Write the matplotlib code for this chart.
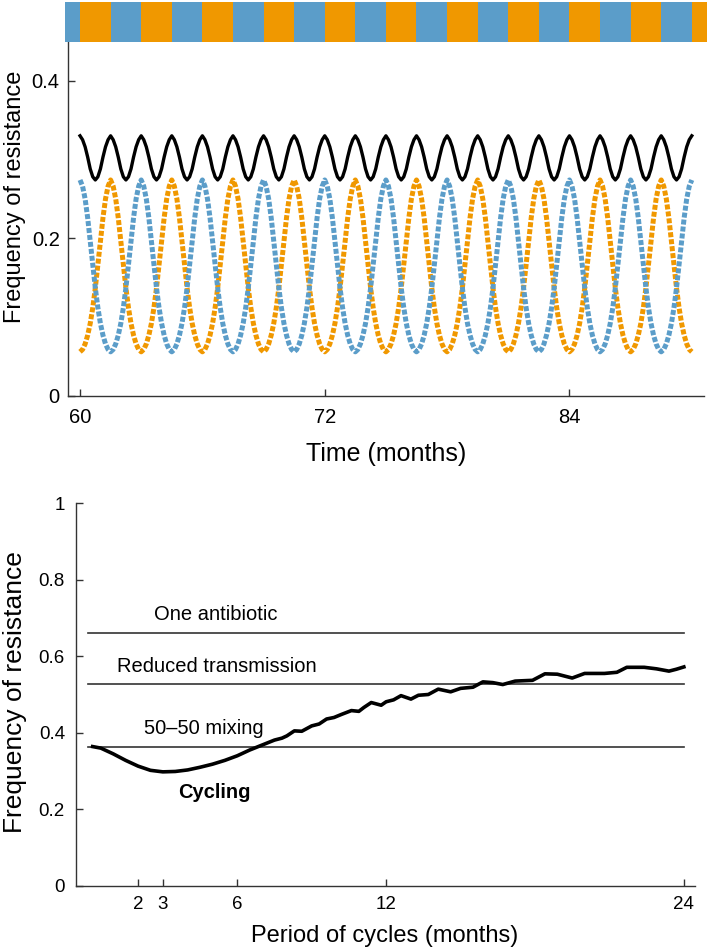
import numpy as np
import matplotlib
matplotlib.use("Agg")
import matplotlib.pyplot as plt
from matplotlib.ticker import FuncFormatter

plt.rcParams['font.family'] = ['Liberation Sans', 'DejaVu Sans']

BLUE = '#5b9dc9'
ORANGE = '#f09800'
DARK = '#333333'

# --- top panel: resistance over time while cycling two drugs every 1.5 months ---
months = np.arange(60, 90.001, 0.125)
n_cycles = 10
# one 3-month cycle (0.125 month steps)
orange_cycle = [0.056, 0.059, 0.066, 0.077, 0.092, 0.112, 0.137, 0.166, 0.196, 0.226, 0.250, 0.266,
                0.274, 0.266, 0.250, 0.226, 0.196, 0.166, 0.137, 0.112, 0.092, 0.077, 0.066, 0.059]
blue_cycle = [0.274, 0.266, 0.250, 0.226, 0.196, 0.166, 0.137, 0.112, 0.092, 0.077, 0.066, 0.059,
              0.056, 0.059, 0.066, 0.077, 0.092, 0.112, 0.137, 0.166, 0.196, 0.226, 0.250, 0.266]
total_cycle = [0.330, 0.325, 0.316, 0.303, 0.288, 0.278, 0.274, 0.278, 0.288, 0.303, 0.316, 0.325]

orange = np.append(np.tile(orange_cycle, n_cycles), orange_cycle[0])
blue = np.append(np.tile(blue_cycle, n_cycles), blue_cycle[0])
total = np.append(np.tile(total_cycle, 2 * n_cycles), total_cycle[0])

# drug in use, 1.5 month blocks starting at 58.5
schedule_start = 58.5
schedule_len = 1.5
schedule = ['B'] + ['A', 'B'] * 10 + ['A']

# --- bottom panel ---
strategy_names = ['One antibiotic', 'Reduced transmission', '50\u201350 mixing']
strategy_levels = [0.660, 0.527, 0.363]

cyc_period = [0.17, 0.5, 1.0, 1.5, 2.0, 2.5, 3.0, 3.5, 4.0, 4.5, 5.0, 5.5, 6.0, 6.5, 7.0, 7.5,
              7.8, 8.0, 8.3, 8.6, 9.0, 9.3, 9.6, 9.9, 10.2, 10.6, 10.9, 11.1, 11.4, 11.8, 12.0,
              12.3, 12.6, 13.0, 13.3, 13.7, 14.1, 14.6, 15.0, 15.5, 15.9, 16.3, 16.7, 17.2,
              17.9, 18.4, 18.9, 19.5, 20.0, 20.8, 21.3, 21.7, 22.4, 22.9, 23.4, 23.7, 24.0]
cyc_resist = [0.364, 0.360, 0.345, 0.328, 0.313, 0.302, 0.298, 0.299, 0.303, 0.310, 0.318, 0.328,
              0.340, 0.355, 0.368, 0.381, 0.386, 0.392, 0.405, 0.404, 0.418, 0.423, 0.436, 0.440,
              0.448, 0.458, 0.456, 0.466, 0.479, 0.472, 0.481, 0.486, 0.497, 0.488, 0.498, 0.500,
              0.514, 0.507, 0.516, 0.519, 0.533, 0.531, 0.526, 0.535, 0.537, 0.554, 0.553, 0.543,
              0.555, 0.555, 0.558, 0.571, 0.571, 0.567, 0.561, 0.566, 0.572]


def style_axes(ax, labelsize):
    for s in ['top', 'right']:
        ax.spines[s].set_visible(False)
    for s in ['left', 'bottom']:
        ax.spines[s].set_color(DARK)
        ax.spines[s].set_linewidth(1.0)
    ax.tick_params(direction='in', length=5, width=1, color=DARK, labelsize=labelsize)


fig = plt.figure(figsize=(7.09, 9.5), dpi=100)

ax1 = fig.add_axes([0.0959, 0.5832, 0.8971, 0.3726])
axb = fig.add_axes([0.0917, 0.9558, 0.9055, 0.0421])
ax2 = fig.add_axes([0.1072, 0.0674, 0.8731, 0.4031])

# drug bar
for i, d in enumerate(schedule):
    x0 = schedule_start + i * schedule_len
    axb.axvspan(x0, x0 + schedule_len, color=BLUE if d == 'B' else ORANGE, lw=0)
axb.set_xlim(59.26, 90.75)
axb.set_ylim(0, 1)
axb.axis('off')

ax1.plot(months, orange, color=ORANGE, lw=3.6, ls=(0, (1.0, 0.4)), dash_capstyle='butt')
ax1.plot(months, blue, color=BLUE, lw=3.6, ls=(0, (1.0, 0.4)), dash_capstyle='butt')
ax1.plot(months, total, color='black', lw=2.4)
ax1.set_xlim(59.41, 90.6)
ax1.set_ylim(0, 0.449)
ax1.set_xticks([60, 72, 84])
ax1.set_yticks([0, 0.2, 0.4])
ax1.yaxis.set_major_formatter(FuncFormatter(lambda v, p: f'{v:g}'))
style_axes(ax1, 14.5)
ax1.tick_params(axis='x', pad=9)
ax1.tick_params(axis='y', pad=6)
ax1.set_ylabel('Frequency of resistance', fontsize=17, va='center')
ax1.yaxis.set_label_coords(-0.083, 0.563)
ax1.set_xlabel('Time (months)', fontsize=18, va='center')
ax1.xaxis.set_label_coords(0.5, -0.165)

# bottom
for name, lev in zip(strategy_names, strategy_levels):
    ax2.plot([0, 24], [lev, lev], color=DARK, lw=1.2)
ax2.plot(cyc_period, cyc_resist, color='black', lw=2.6)
ax2.text(5.12, 0.708, strategy_names[0], fontsize=14.5, ha='center', va='center')
ax2.text(5.16, 0.574, strategy_names[1], fontsize=14.5, ha='center', va='center')
ax2.text(4.66, 0.412, strategy_names[2], fontsize=14.5, ha='center', va='center')
ax2.text(5.08, 0.245, 'Cycling', fontsize=14.5, fontweight='bold', ha='center', va='center')
ax2.set_xlim(-0.5, 24.45)
ax2.set_ylim(0, 1)
ax2.set_xticks([2, 3, 6, 12, 24])
ax2.set_yticks([0, 0.2, 0.4, 0.6, 0.8, 1])
ax2.yaxis.set_major_formatter(FuncFormatter(lambda v, p: f'{v:g}'))
style_axes(ax2, 13.5)
ax2.tick_params(axis='x', pad=7)
ax2.tick_params(axis='y', pad=8)
ax2.set_ylabel('Frequency of resistance', fontsize=19, va='center')
ax2.yaxis.set_label_coords(-0.0985, 0.507)
ax2.set_xlabel('Period of cycles (months)', fontsize=17, va='center')
ax2.xaxis.set_label_coords(0.499, -0.131)

fig.savefig('out.png', dpi=100)
